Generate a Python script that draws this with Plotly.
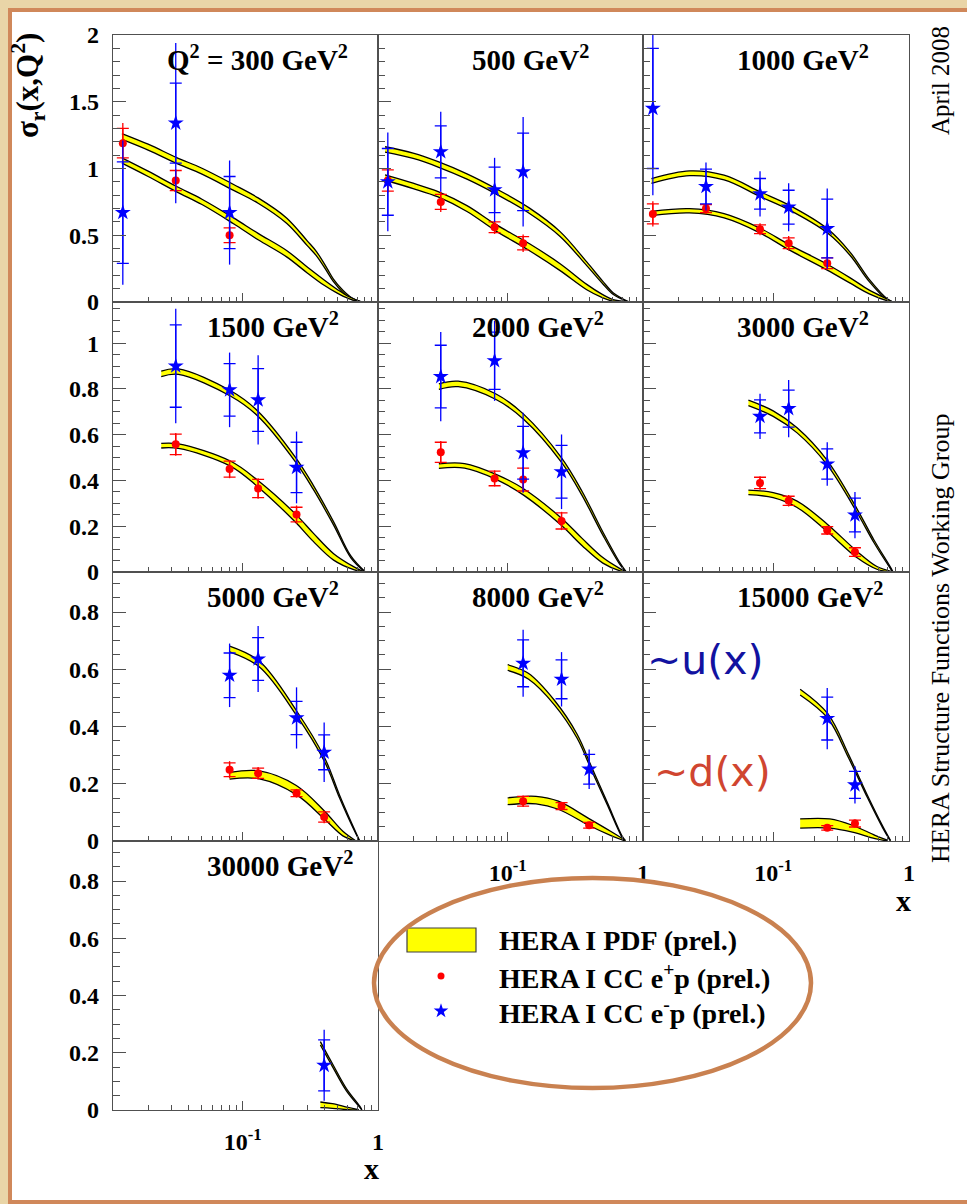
import math
import plotly.graph_objects as go

W, H = 967, 1204

# ---------------------------------------------------------------- data
Q2 = [300, 500, 1000, 1500, 2000, 3000, 5000, 8000, 15000, 30000]

# HERA I CC e+p (prel.) : x, sigma_r, stat. error, total error
EP_X = [[0.013, 0.032, 0.08], [0.013, 0.032, 0.08, 0.13],
        [0.013, 0.032, 0.08, 0.13, 0.25], [0.032, 0.08, 0.13, 0.25],
        [0.032, 0.08, 0.13, 0.25], [0.08, 0.13, 0.25, 0.40],
        [0.08, 0.13, 0.25, 0.40], [0.13, 0.25, 0.40], [0.25, 0.40], []]
EP_Y = [[1.19, 0.91, 0.50], [0.91, 0.75, 0.56, 0.44],
        [0.66, 0.70, 0.545, 0.44, 0.29], [0.558, 0.45, 0.365, 0.251],
        [0.523, 0.409, 0.404, 0.223], [0.389, 0.311, 0.182, 0.087],
        [0.249, 0.237, 0.167, 0.084], [0.139, 0.122, 0.055], [0.046, 0.061], []]
EP_STAT = [[0.11, 0.075, 0.055], [0.08, 0.056, 0.04, 0.05],
           [0.075, 0.03, 0.033, 0.04, 0.04], [0.045, 0.035, 0.04, 0.032],
           [0.044, 0.032, 0.05, 0.035], [0.025, 0.02, 0.016, 0.019],
           [0.024, 0.018, 0.012, 0.018], [0.017, 0.012, 0.01], [0.008, 0.012], []]
EP_TOT = [[0.15, 0.085, 0.07], [0.09, 0.075, 0.05, 0.065],
          [0.095, 0.04, 0.045, 0.055, 0.05], [0.05, 0.04, 0.045, 0.04],
          [0.05, 0.035, 0.055, 0.04], [0.03, 0.025, 0.02, 0.022],
          [0.03, 0.022, 0.015, 0.022], [0.02, 0.015, 0.012], [0.01, 0.014], []]

# HERA I CC e-p (prel.)
EM_X = [[0.013, 0.032, 0.08], [0.013, 0.032, 0.08, 0.13],
        [0.013, 0.032, 0.08, 0.13, 0.25], [0.032, 0.08, 0.13, 0.25],
        [0.032, 0.08, 0.13, 0.25], [0.08, 0.13, 0.25, 0.40],
        [0.08, 0.13, 0.25, 0.40], [0.13, 0.25, 0.40], [0.25, 0.40], [0.40]]
EM_Y = [[0.67, 1.34, 0.67], [0.90, 1.125, 0.84, 0.975],
        [1.45, 0.865, 0.81, 0.71, 0.55], [0.90, 0.796, 0.752, 0.457],
        [0.854, 0.923, 0.521, 0.438], [0.68, 0.714, 0.472, 0.249],
        [0.579, 0.636, 0.43, 0.31], [0.621, 0.565, 0.251], [0.428, 0.196], [0.156]]
EM_STAT = [[0.38, 0.30, 0.27], [0.25, 0.195, 0.17, 0.29],
           [0.45, 0.13, 0.115, 0.127, 0.22], [0.18, 0.115, 0.137, 0.11],
           [0.137, 0.125, 0.115, 0.115], [0.072, 0.081, 0.066, 0.074],
           [0.078, 0.075, 0.058, 0.061], [0.082, 0.068, 0.052], [0.075, 0.047], [0.089]]
EM_TOT = [[0.54, 0.60, 0.39], [0.37, 0.30, 0.24, 0.41],
          [0.65, 0.18, 0.17, 0.18, 0.30], [0.25, 0.163, 0.195, 0.157],
          [0.195, 0.175, 0.175, 0.163], [0.099, 0.125, 0.095, 0.101],
          [0.111, 0.115, 0.107, 0.104], [0.117, 0.095, 0.069], [0.107, 0.065], [0.124]]

# HERA I PDF (prel.) prediction for e-p : x, central value, band half-width
EM_FIT_X = [[0.0128, 0.02, 0.0325, 0.05, 0.085, 0.13, 0.211, 0.3, 0.352, 0.42, 0.467, 0.55, 0.64, 0.737],
            [0.0124, 0.02, 0.0306, 0.05, 0.081, 0.145, 0.244, 0.384, 0.5, 0.604, 0.78],
            [0.0127, 0.0242, 0.0435, 0.0804, 0.131, 0.25, 0.369, 0.51, 0.705, 0.75],
            [0.025, 0.0335, 0.081, 0.129, 0.247, 0.331, 0.47, 0.63, 0.8],
            [0.031, 0.043, 0.082, 0.131, 0.25, 0.355, 0.505, 0.676, 0.75],
            [0.0657, 0.1, 0.15, 0.249, 0.415, 0.551, 0.73, 0.76],
            [0.08, 0.133, 0.249, 0.403, 0.52, 0.653, 0.73],
            [0.1, 0.142, 0.222, 0.326, 0.421, 0.544, 0.703, 0.74],
            [0.158, 0.253, 0.36, 0.495, 0.64, 0.73],
            [0.375, 0.465, 0.584, 0.731, 0.76]]
EM_FIT_Y = [[1.24, 1.16, 1.06, 0.98, 0.86, 0.76, 0.61, 0.44, 0.36, 0.24, 0.164, 0.08, 0.025, 0.0],
            [1.143, 1.095, 1.031, 0.94, 0.832, 0.683, 0.509, 0.286, 0.15, 0.062, 0.0],
            [0.907, 0.964, 0.932, 0.807, 0.708, 0.534, 0.36, 0.161, 0.012, 0.0],
            [0.866, 0.876, 0.781, 0.693, 0.489, 0.372, 0.212, 0.066, 0.0],
            [0.81, 0.822, 0.766, 0.679, 0.489, 0.343, 0.168, 0.036, 0.0],
            [0.739, 0.692, 0.619, 0.479, 0.267, 0.135, 0.018, 0.0],
            [0.671, 0.618, 0.448, 0.284, 0.155, 0.049, 0.0],
            [0.606, 0.576, 0.483, 0.366, 0.248, 0.131, 0.014, 0.0],
            [0.52, 0.436, 0.295, 0.155, 0.049, 0.0],
            [0.233, 0.153, 0.071, 0.012, 0.0]]
EM_BAND = [[0.022, 0.022, 0.022, 0.022, 0.022, 0.02, 0.02, 0.018, 0.016, 0.012, 0.01, 0.008, 0.006, 0.004],
           [0.02, 0.02, 0.02, 0.02, 0.02, 0.02, 0.018, 0.014, 0.01, 0.006, 0.003],
           [0.018, 0.018, 0.018, 0.018, 0.018, 0.016, 0.012, 0.008, 0.004, 0.003],
           [0.012, 0.012, 0.012, 0.011, 0.01, 0.009, 0.007, 0.004, 0.002],
           [0.012, 0.012, 0.012, 0.011, 0.01, 0.009, 0.007, 0.004, 0.002],
           [0.012, 0.012, 0.011, 0.01, 0.008, 0.006, 0.003, 0.002],
           [0.01, 0.01, 0.008, 0.007, 0.005, 0.003, 0.002],
           [0.01, 0.01, 0.008, 0.007, 0.006, 0.004, 0.002, 0.002],
           [0.01, 0.008, 0.006, 0.004, 0.003, 0.002],
           [0.006, 0.005, 0.004, 0.002, 0.001]]

# HERA I PDF (prel.) prediction for e+p
EP_FIT_X = [[0.0128, 0.02, 0.0325, 0.05, 0.085, 0.13, 0.211, 0.3, 0.4, 0.5, 0.6, 0.74],
            [0.0124, 0.02, 0.0306, 0.05, 0.081, 0.145, 0.244, 0.384, 0.5, 0.6, 0.75],
            [0.0127, 0.0242, 0.0435, 0.0804, 0.131, 0.25, 0.369, 0.51, 0.705, 0.75],
            [0.025, 0.0335, 0.081, 0.129, 0.247, 0.331, 0.47, 0.67, 0.78],
            [0.031, 0.048, 0.082, 0.131, 0.25, 0.355, 0.505, 0.676, 0.75],
            [0.0657, 0.1, 0.15, 0.249, 0.415, 0.58, 0.75],
            [0.08, 0.133, 0.249, 0.403, 0.55, 0.68],
            [0.1, 0.162, 0.237, 0.396, 0.58, 0.74],
            [0.158, 0.261, 0.383, 0.562, 0.7],
            [0.375, 0.46, 0.6, 0.72]]
EP_FIT_Y = [[1.06, 0.96, 0.845, 0.75, 0.61, 0.49, 0.362, 0.24, 0.145, 0.08, 0.035, 0.0],
            [0.932, 0.87, 0.807, 0.70, 0.559, 0.41, 0.261, 0.112, 0.045, 0.012, 0.0],
            [0.663, 0.683, 0.646, 0.534, 0.41, 0.261, 0.161, 0.075, 0.012, 0.0],
            [0.552, 0.55, 0.474, 0.387, 0.234, 0.153, 0.066, 0.015, 0.0],
            [0.463, 0.464, 0.416, 0.35, 0.219, 0.131, 0.051, 0.01, 0.0],
            [0.348, 0.336, 0.296, 0.194, 0.076, 0.018, 0.0],
            [0.228, 0.231, 0.178, 0.09, 0.026, 0.0],
            [0.139, 0.143, 0.125, 0.067, 0.026, 0.0],
            [0.061, 0.061, 0.043, 0.014, 0.0],
            [0.018, 0.014, 0.005, 0.0]]
EP_BAND = [[0.02, 0.02, 0.02, 0.02, 0.022, 0.024, 0.024, 0.022, 0.02, 0.014, 0.008, 0.004],
           [0.02, 0.02, 0.02, 0.022, 0.024, 0.026, 0.026, 0.02, 0.012, 0.006, 0.003],
           [0.016, 0.016, 0.016, 0.018, 0.02, 0.022, 0.02, 0.014, 0.006, 0.003],
           [0.01, 0.01, 0.011, 0.014, 0.018, 0.018, 0.014, 0.006, 0.002],
           [0.01, 0.01, 0.011, 0.014, 0.016, 0.016, 0.012, 0.005, 0.002],
           [0.01, 0.011, 0.014, 0.016, 0.014, 0.006, 0.002],
           [0.012, 0.014, 0.016, 0.014, 0.008, 0.002],
           [0.012, 0.013, 0.014, 0.012, 0.007, 0.002],
           [0.016, 0.016, 0.012, 0.006, 0.002],
           [0.01, 0.008, 0.004, 0.001]]

# axis ticks
X_MAJOR = [0.1, 1]
X_MAJOR_TEXT = ["10<sup>-1</sup>", "1"]
X_MINOR = [0.02, 0.03, 0.04, 0.05, 0.06, 0.07, 0.08, 0.09,
           0.2, 0.3, 0.4, 0.5, 0.6, 0.7, 0.8, 0.9]
X_MIN, X_MAX = 0.011, 1.0
ROW_YMAX = [2.0, 1.18, 0.94, 0.94]
ROW_DTICK = [0.5, 0.2, 0.2, 0.2]
ROW_MINOR = [0.1, 0.05, 0.05, 0.05]

# ---------------------------------------------------------------- layout geometry (pixels)
COL_EDGES = [113, 378, 643, 909]
ROW_EDGES = [35, 302, 572, 841, 1110]

SERIF = "Liberation Serif"
RED = "#ff0000"
BLUE = "#0000ff"
BAND = "#ffff00"
FRAME = "#505050"


def px(xp):
    return xp / W


def py(yp):
    return 1 - yp / H


fig = go.Figure()
annotations = []
shapes = []

# page: beige surround with an orange edge and a white sheet
shapes.append(dict(type="rect", xref="paper", yref="paper", layer="below",
                   x0=px(10), x1=px(990), y0=py(1202), y1=py(10),
                   fillcolor="white", line=dict(color="#d0885a", width=4)))

bottom_panels = {7, 8, 9}

for i, q in enumerate(Q2):
    r, c = divmod(i, 3)
    n = i + 1
    xs = "x" if n == 1 else f"x{n}"
    ys = "y" if n == 1 else f"y{n}"
    xk = "xaxis" if n == 1 else f"xaxis{n}"
    yk = "yaxis" if n == 1 else f"yaxis{n}"

    fig.layout[xk] = dict(
        type="log", range=[math.log10(X_MIN), math.log10(X_MAX)],
        domain=[px(COL_EDGES[c]), px(COL_EDGES[c + 1])], anchor=ys,
        showline=True, mirror=True, linecolor=FRAME, linewidth=1.3,
        ticks="inside", ticklen=9, tickwidth=1.2, tickcolor=FRAME,
        tickmode="array", tickvals=X_MAJOR, ticktext=X_MAJOR_TEXT,
        showticklabels=i in bottom_panels, ticklabelstandoff=10,
        tickfont=dict(family=SERIF, size=24, color="black", weight="bold"),
        minor=dict(tickmode="array", tickvals=X_MINOR, ticks="inside",
                   ticklen=5, tickwidth=1.1, tickcolor=FRAME),
        showgrid=False, zeroline=False, fixedrange=True, automargin=False)
    fig.layout[yk] = dict(
        range=[0, ROW_YMAX[r]],
        domain=[py(ROW_EDGES[r + 1]), py(ROW_EDGES[r])], anchor=xs,
        showline=True, mirror=True, linecolor=FRAME, linewidth=1.3,
        ticks="inside", ticklen=13, tickwidth=1.2, tickcolor=FRAME,
        tickmode="linear", tick0=0, dtick=ROW_DTICK[r],
        showticklabels=c == 0, ticklabelstandoff=8,
        tickfont=dict(family=SERIF, size=24, color="black", weight="bold"),
        minor=dict(dtick=ROW_MINOR[r], tick0=0, ticks="inside",
                   ticklen=7, tickwidth=1.1, tickcolor=FRAME),
        showgrid=False, zeroline=False, fixedrange=True, automargin=False)

    # PDF bands (yellow, black edges)
    for fx, fy, fw in ((EM_FIT_X[i], EM_FIT_Y[i], EM_BAND[i]),
                       (EP_FIT_X[i], EP_FIT_Y[i], EP_BAND[i])):
        lo = [max(v - w, 0.0) for v, w in zip(fy, fw)]
        hi = [v + w for v, w in zip(fy, fw)]
        fig.add_trace(go.Scatter(x=fx, y=lo, xaxis=xs, yaxis=ys, mode="lines",
                                 line=dict(color="black", width=1.3, shape="spline", smoothing=1.0),
                                 hoverinfo="skip", showlegend=False))
        fig.add_trace(go.Scatter(x=fx, y=hi, xaxis=xs, yaxis=ys, mode="lines",
                                 line=dict(color="black", width=1.3, shape="spline", smoothing=1.0),
                                 fill="tonexty", fillcolor=BAND,
                                 hoverinfo="skip", showlegend=False))

    # measurements: total error line, stat error ticks, marker
    for dx, dy, ds, dt, col, sym, size in (
            (EP_X[i], EP_Y[i], EP_STAT[i], EP_TOT[i], RED, "circle", 8),
            (EM_X[i], EM_Y[i], EM_STAT[i], EM_TOT[i], BLUE, "star", 12)):
        if not dx:
            continue
        fig.add_trace(go.Scatter(x=dx, y=dy, xaxis=xs, yaxis=ys, mode="markers",
                                 marker=dict(size=0.1, color=col, opacity=0),
                                 error_y=dict(type="data", array=dt, symmetric=True,
                                              color=col, thickness=1.3, width=0),
                                 hoverinfo="skip", showlegend=False))
        fig.add_trace(go.Scatter(x=dx, y=dy, xaxis=xs, yaxis=ys, mode="markers",
                                 marker=dict(size=size, color=col, symbol=sym,
                                             line=dict(width=0)),
                                 error_y=dict(type="data", array=ds, symmetric=True,
                                              color=col, thickness=1.3, width=6),
                                 showlegend=False))

    # panel label
    left = COL_EDGES[c] + (52 if i == 0 else 92)
    label = (f"Q<sup>2</sup> = {q} GeV<sup>2</sup>" if i == 0
             else f"{q} GeV<sup>2</sup>")
    annotations.append(dict(text=label, xref="paper", yref="paper",
                            x=px(left), y=py(ROW_EDGES[r] + 23),
                            xanchor="left", yanchor="middle", showarrow=False,
                            font=dict(family=SERIF, size=29, color="black", weight="bold")))

# full-page overlay axes (pixel coordinates) for the legend symbols
fig.layout["xaxis11"] = dict(domain=[0, 1], range=[0, W], visible=False,
                             fixedrange=True, anchor="y11", automargin=False)
fig.layout["yaxis11"] = dict(domain=[0, 1], range=[H, 0], visible=False,
                             fixedrange=True, anchor="x11", automargin=False)

LEGEND_LABELS = ["HERA I PDF (prel.)", "HERA I CC e<sup>+</sup>p (prel.)",
                 "HERA I CC e<sup>-</sup>p (prel.)"]
LEGEND_ROWS = [940, 976, 1011]

shapes.append(dict(type="rect", xref="paper", yref="paper",
                   x0=px(407), x1=px(476), y0=py(952), y1=py(928),
                   fillcolor=BAND, line=dict(color="#404040", width=1.2)))
fig.add_trace(go.Scatter(x=[441], y=[LEGEND_ROWS[1]], xaxis="x11", yaxis="y11",
                         mode="markers", marker=dict(size=7, color=RED, symbol="circle"),
                         hoverinfo="skip", showlegend=False))
fig.add_trace(go.Scatter(x=[441], y=[LEGEND_ROWS[2]], xaxis="x11", yaxis="y11",
                         mode="markers", marker=dict(size=11, color=BLUE, symbol="star"),
                         hoverinfo="skip", showlegend=False))
for txt, yy in zip(LEGEND_LABELS, LEGEND_ROWS):
    annotations.append(dict(text=txt, xref="paper", yref="paper", x=px(497), y=py(yy),
                            xanchor="left", yanchor="middle", showarrow=False,
                            font=dict(family=SERIF, size=28, color="black", weight="bold")))

# hand-drawn style ring round the legend
shapes.append(dict(type="circle", xref="paper", yref="paper", layer="above",
                   x0=px(374), x1=px(811), y0=py(1088), y1=py(878),
                   line=dict(color="#c98150", width=4.5)))

# axis titles and side notes
annotations += [
    dict(text="σ<sub>r</sub>(x,Q<sup>2</sup>)", xref="paper", yref="paper",
         x=px(28), y=py(86), textangle=-90, showarrow=False,
         xanchor="center", yanchor="middle",
         font=dict(family=SERIF, size=31, color="black", weight="bold")),
    dict(text="x", xref="paper", yref="paper", x=px(903), y=py(900), showarrow=False,
         xanchor="center", yanchor="middle",
         font=dict(family=SERIF, size=30, color="black", weight="bold")),
    dict(text="x", xref="paper", yref="paper", x=px(371), y=py(1168), showarrow=False,
         xanchor="center", yanchor="middle",
         font=dict(family=SERIF, size=30, color="black", weight="bold")),
    dict(text="April 2008", xref="paper", yref="paper", x=px(940), y=py(81),
         textangle=-90, showarrow=False, xanchor="center", yanchor="middle",
         font=dict(family=SERIF, size=25, color="black")),
    dict(text="HERA Structure Functions Working Group", xref="paper", yref="paper",
         x=px(940), y=py(638), textangle=-90, showarrow=False,
         xanchor="center", yanchor="middle",
         font=dict(family=SERIF, size=26, color="black")),
    dict(text="~u(x)", xref="paper", yref="paper", x=px(645), y=py(660),
         xanchor="left", yanchor="middle", showarrow=False,
         font=dict(family="DejaVu Sans", size=41, color="#1212a0")),
    dict(text="~d(x)", xref="paper", yref="paper", x=px(652), y=py(772),
         xanchor="left", yanchor="middle", showarrow=False,
         font=dict(family="DejaVu Sans", size=41, color="#d04530")),
]

fig.update_layout(
    width=W, height=H, autosize=False,
    margin=dict(l=0, r=0, t=0, b=0, pad=0, autoexpand=False),
    paper_bgcolor="#e9d5a7", plot_bgcolor="rgba(0,0,0,0)",
    showlegend=False, shapes=shapes, annotations=annotations,
)

fig.write_html("out.html",
               post_script="document.body.style.margin='0';"
                           "document.body.style.overflow='hidden';")
